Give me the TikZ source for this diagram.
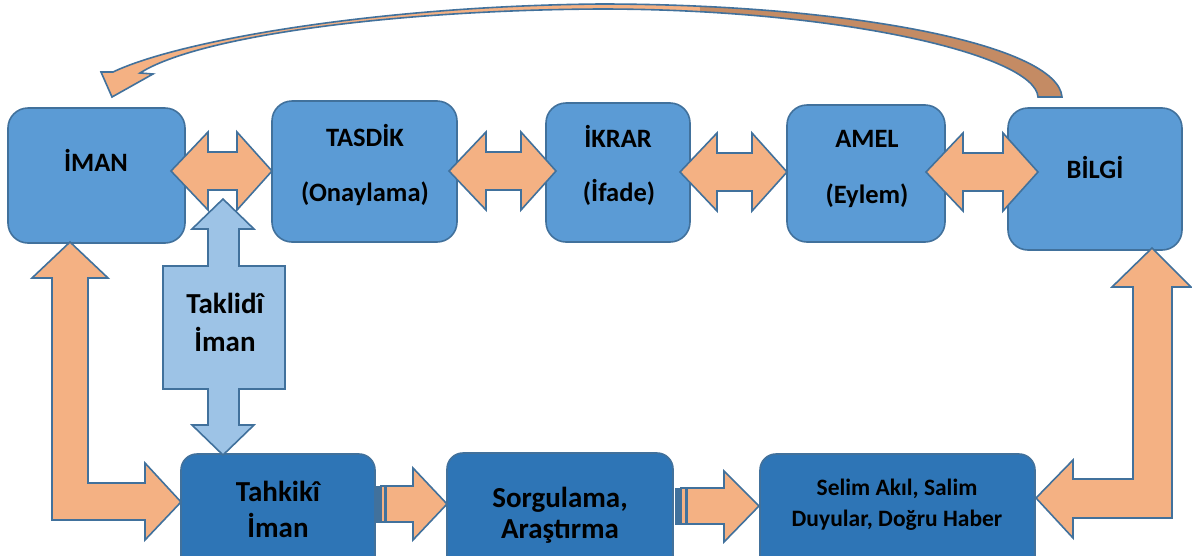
\documentclass[tikz,border=0pt]{standalone}
\usepackage{fontspec}
\setmainfont{Carlito}
\definecolor{topfill}{HTML}{5B9BD5}
\definecolor{botfill}{HTML}{2E75B6}
\definecolor{bordc}{HTML}{41719C}
\definecolor{orng}{HTML}{F4B183}
\definecolor{lightb}{HTML}{9DC3E6}
\definecolor{undersd}{HTML}{C48B64}
\newcommand\hdbl[3]{%
  \filldraw[arr] (#1,#3) -- ({#1+37},{#3-39}) -- ({#1+37},{#3-19}) -- ({#2-35},{#3-19}) -- ({#2-35},{#3-39}) -- (#2,#3) -- ({#2-35},{#3+39}) -- ({#2-35},{#3+19}) -- ({#1+37},{#3+19}) -- ({#1+37},{#3+39}) -- cycle;}
\newcommand\curvedpath{(112,97) -- (101,72) -- (113,72) .. controls (180,40) and (380,6) .. (600,4) .. controls (850,4) and (1058,45) .. (1062,97) -- (1038,97) .. controls (1035,55) and (840,9) .. (600,9) .. controls (400,10) and (200,35) .. (140,73) -- (153,74) -- cycle}
\begin{document}
\begin{tikzpicture}[x=1pt,y=-1pt,
  topbox/.style={draw=bordc, fill=topfill, line width=1.6pt, rounded corners=20pt, inner sep=0pt},
  botbox/.style={draw=bordc, fill=botfill, line width=1.6pt, rounded corners=16pt, inner sep=0pt},
  arr/.style={draw=bordc, fill=orng, line width=1.6pt, line join=miter},
  callout/.style={draw=bordc, fill=lightb, line width=1.6pt, line join=miter},
  lbl/.style={font=\bfseries\fontsize{26.5}{31}\selectfont, text=black, inner sep=0pt, anchor=base},
  lblb/.style={font=\bfseries\fontsize{29}{34}\selectfont, text=black, inner sep=0pt, anchor=base},
  lbls/.style={font=\bfseries\fontsize{23.5}{28}\selectfont, text=black, inner sep=0pt, anchor=base}]
\useasboundingbox (0,0) rectangle (1192,555);
\clip (0,0) rectangle (1192,555);
\fill[white] (0,0) rectangle (1192,555);

% top boxes
\node[topbox, minimum width=177pt, minimum height=135pt] (iman) at (96.5,175.5) {};
\node[topbox, minimum width=185pt, minimum height=141pt] (tasdik) at (364.5,171.5) {};
\node[topbox, minimum width=144pt, minimum height=139pt] (ikrar) at (618,172.5) {};
\node[topbox, minimum width=158pt, minimum height=137pt] (amel) at (866,173.5) {};
\node[topbox, minimum width=174pt, minimum height=142pt] (bilgi) at (1095,179) {};

% bottom boxes
\node[botbox, minimum width=194pt, minimum height=121pt] (tahkiki) at (278,514.5) {};
\node[botbox, minimum width=226pt, minimum height=122pt] (sorgu) at (560,514) {};
\node[botbox, minimum width=275pt, minimum height=121pt] (selim) at (897.5,514.5) {};

% horizontal double arrows
\hdbl{171}{272}{171}
\hdbl{449}{556}{171}
\hdbl{680}{787}{172}
\hdbl{926}{1038}{172}

% curved arrow
\fill[orng] \curvedpath;
\begin{scope}
  \clip (700,-10) rectangle (1200,120);
  \fill[undersd] \curvedpath;
\end{scope}
\draw[bordc, line width=1.6pt, line join=miter] \curvedpath;

% bent arrows
\filldraw[arr] (70,242) -- (108,278) -- (88,278) -- (88,483) -- (145,483) -- (145,463) -- (181,502) -- (145,540) -- (145,520) -- (52,520) -- (52,278) -- (32,278) -- cycle;
\filldraw[arr] (1152,248) -- (1191,287) -- (1172,287) -- (1172,518) -- (1073,518) -- (1073,538) -- (1036,498) -- (1073,460) -- (1073,479) -- (1133,479) -- (1133,287) -- (1112,287) -- cycle;

% Taklidi callout
\filldraw[callout] (223,199) -- (254,229) -- (239,229) -- (239,266) -- (285,266) -- (285,389) -- (239,389) -- (239,425) -- (254,425) -- (223,455) -- (192,425) -- (208,425) -- (208,389) -- (163,389) -- (163,266) -- (208,266) -- (208,229) -- (192,229) -- cycle;

% striped arrows
\filldraw[draw=bordc, fill=bordc, line width=1pt] (375,486) rectangle (379,522);
\filldraw[arr, line width=1.2pt] (381,486) rectangle (385,522);
\filldraw[arr] (386,486) -- (413,486) -- (413,468) -- (447,504) -- (413,540) -- (413,522) -- (386,522) -- cycle;
\filldraw[draw=bordc, fill=bordc, line width=1pt] (675,488) rectangle (679,524);
\filldraw[arr, line width=1.2pt] (681,488) rectangle (686,524);
\filldraw[arr] (687,488) -- (724,488) -- (724,471) -- (759,506) -- (724,542) -- (724,524) -- (687,524) -- cycle;

% labels
\node[lbl] (t1) at (96,171) {İMAN};
\node[lbl] (t2) at (365,146.5) {TASDİK};
\node[lbl] (t3) at (365,201) {(Onaylama)};
\node[lbl] (t4) at (618,147) {İKRAR};
\node[lbl] (t5) at (619,201) {(İfade)};
\node[lbl] (t6) at (867,147) {AMEL};
\node[lbl] (t7) at (867,203) {(Eylem)};
\node[lbl] (t8) at (1095,178) {BİLGİ};
\node[lblb] (t9) at (225,313) {Taklidî};
\node[lblb] (t10) at (225,351) {İman};
\node[lblb] (t11) at (278,501) {Tahkikî};
\node[lblb] (t12) at (278,537) {İman};
\node[lblb] (t13) at (560,507) {Sorgulama,};
\node[lblb] (t14) at (560,538) {Araştırma};
\node[lbls] (t15) at (897,495) {Selim Akıl, Salim};
\node[lbls] (t16) at (897,526) {Duyular, Doğru Haber};
\end{tikzpicture}
\end{document}
